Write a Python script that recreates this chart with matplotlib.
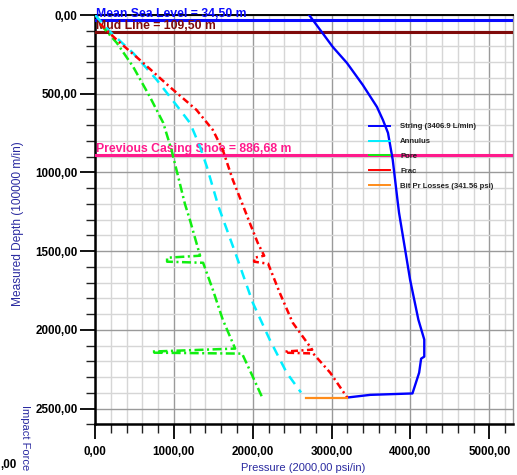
import matplotlib
matplotlib.use("Agg")
import matplotlib.pyplot as plt
from matplotlib.ticker import MultipleLocator, FuncFormatter
from matplotlib.lines import Line2D

plt.rcParams['font.family'] = ['Liberation Sans', 'DejaVu Sans']
plt.rcParams['lines.scale_dashes'] = False

# ---- data: pressure (psi) vs measured depth (m) ----
string_p = [2715, 2875, 3015, 3195, 3395, 3575, 3650, 3715, 3775, 3805, 3835, 3855,
            3995, 4100, 4175, 4175, 4135, 4110, 4025, 3490, 3198]
string_d = [0, 108, 203, 305, 444, 584, 666, 749, 920, 1047, 1174, 1256,
            1681, 1935, 2062, 2170, 2183, 2272, 2404, 2413, 2430]

annulus_p = [0, 190, 486, 783, 1079, 1206, 1332, 1417, 1565, 1797, 2000, 2215, 2430, 2612]
annulus_d = [0, 106, 243, 412, 603, 687, 838, 962, 1216, 1536, 1827, 2062, 2272, 2398]

pore_p = [70, 278, 485, 696, 865, 970, 1055, 1140, 1203, 1332, 914, 914, 1371,
          1494, 1620, 1777, 723, 723, 1865, 2000, 2127]
pore_d = [60, 178, 330, 520, 685, 857, 1028, 1200, 1301, 1529, 1542, 1567, 1574,
          1745, 1935, 2119, 2138, 2145, 2151, 2297, 2437]

frac_p = [60, 278, 570, 949, 1287, 1494, 1620, 1747, 1873, 1962, 2063, 2145, 2018,
          2018, 2195, 2342, 2506, 2754, 2411, 2411, 2766, 2982, 3198]
frac_d = [55, 159, 286, 457, 603, 730, 857, 1047, 1206, 1320, 1447, 1529, 1542,
          1567, 1580, 1764, 1954, 2126, 2138, 2145, 2150, 2272, 2430]

bit_p = [2671, 3198]
bit_d = [2430, 2430]

ref_depths = [34.5, 109.5, 886.68]
ref_labels = ["Mean Sea Level = 34,50 m", "Mud Line = 109,50 m",
              "Previous Casing Shoe = 886,68 m"]
ref_colors = ["#0a0aff", "#7f0a0a", "#ff1a8c"]

legend_labels = ["String (3406.9 L/min)", "Annulus", "Pore", "Frac",
                 "Bit Pr Losses (341.56 psi)"]

W, H = 517, 475
fig = plt.figure(figsize=(W / 100, H / 100), dpi=100)
ax_l, ax_r, ax_t, ax_b = 95, 513, 15, 424.3
ax = fig.add_axes([ax_l / W, 1 - ax_b / H, (ax_r - ax_l) / W, (ax_b - ax_t) / H])

ax.set_xlim(0, 5300)
ax.set_ylim(2600, 0)

ax.xaxis.set_major_locator(MultipleLocator(1000))
ax.xaxis.set_minor_locator(MultipleLocator(200))
ax.yaxis.set_major_locator(MultipleLocator(500))
ax.yaxis.set_minor_locator(MultipleLocator(100))
fmt = FuncFormatter(lambda v, _: f"{v:.2f}".replace('.', ','))
ax.xaxis.set_major_formatter(fmt)
ax.yaxis.set_major_formatter(fmt)

ax.set_axisbelow(True)
ax.grid(which='minor', color='#d6d6d6', lw=1.0)
ax.grid(which='major', color='#9a9a9a', lw=1.0)

for s in ['left', 'bottom']:
    ax.spines[s].set_linewidth(1.8)
    ax.spines[s].set_color('black')
ax.spines['top'].set_linewidth(1.4)
ax.spines['top'].set_color('black')
ax.spines['right'].set_linewidth(1.0)
ax.spines['right'].set_color('#9a9a9a')

ax.tick_params(which='major', direction='out', length=10.5, width=1.3, color='black',
               labelsize=8.4)
ax.tick_params(which='minor', direction='out', length=6.5, width=1.0, color='#222222')
ax.tick_params(axis='y', which='major', pad=2)
ax.tick_params(axis='x', which='major', pad=5)
for lbl in ax.get_xticklabels() + ax.get_yticklabels():
    lbl.set_fontweight('bold')

# reference depth lines with labels
ref_offsets = [22, 19, 19]
for d, lab, c, off in zip(ref_depths, ref_labels, ref_colors, ref_offsets):
    ax.axhline(d, color=c, lw=2.2, zorder=3)
    ax.text(8, d - off, lab, color=c, fontsize=8.8, fontweight='bold',
            ha='left', va='baseline', zorder=4, clip_on=False)

# pressure profiles
ax.plot(string_p, string_d, color='#0000ff', lw=1.7, zorder=5)
ax.plot(annulus_p, annulus_d, color='#00eeff', lw=1.8, ls=(0, (7, 5)), zorder=5)
ax.plot(pore_p, pore_d, color='#11ee11', lw=1.8, ls=(0, (6.5, 2.5, 1.5, 2.5)), zorder=5)
ax.plot(frac_p, frac_d, color='#ff0000', lw=1.8, ls=(0, (5, 2.5, 1.5, 2.5)), zorder=5)
ax.plot(bit_p, bit_d, color='#ff8c1a', lw=1.6, zorder=5)

handles = [Line2D([], [], color=c, lw=1.4) for c in
           ['#0000ff', '#00eeff', '#11ee11', '#ff0000', '#ff8c1a']]
leg = ax.legend(handles, legend_labels, loc='upper left',
                bbox_to_anchor=(369 / W, 1 - 123 / H), bbox_transform=fig.transFigure,
                frameon=False, fontsize=5.6, handlelength=2.7, handletextpad=1.3,
                labelspacing=0.95, borderpad=0, borderaxespad=0)
for t in leg.get_texts():
    t.set_fontweight('bold')
    t.set_color('#222222')

label_color = '#2a2aa0'
ax.set_xlabel("Pressure (2000,00 psi/in)", fontsize=8, color=label_color)
ax.xaxis.set_label_coords((303 - ax_l) / (ax_r - ax_l), (475 - 468 - (475 - ax_b)) / (ax_b - ax_t))
ax.xaxis.label.set_va('center')
ax.set_ylabel("Measured Depth (100000 m/in)", fontsize=8.6, color=label_color)
ax.yaxis.set_label_coords((18 - ax_l) / (ax_r - ax_l), 0.49)
ax.yaxis.label.set_va('center')

fig.text(25 / W, 1 - 405 / H, "Impact Force", rotation=-90, fontsize=8,
         color=label_color, ha='center', va='top')
fig.text(0.5 / W, 1 - 465 / H, ",00", fontsize=8.4, fontweight='bold',
         ha='left', va='center')

fig.savefig("out.png", dpi=100)
